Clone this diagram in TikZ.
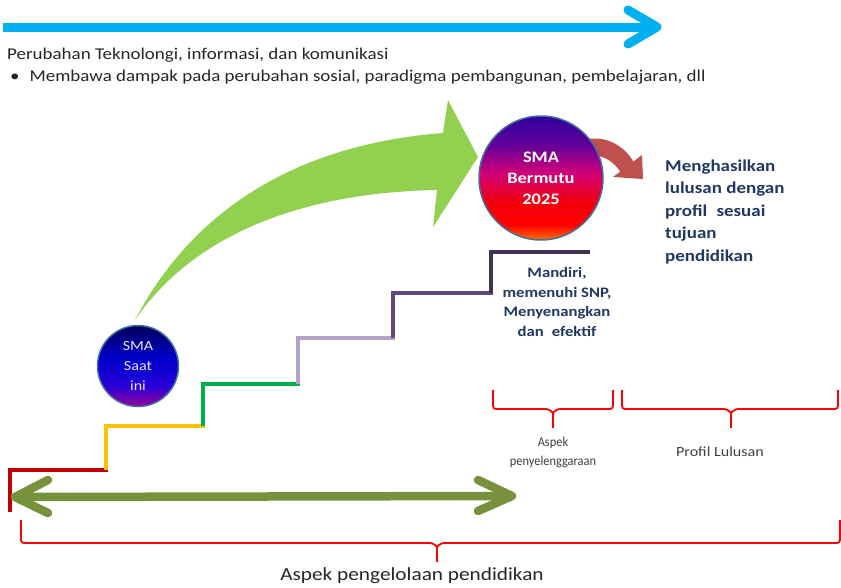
\documentclass[tikz,border=0pt]{standalone}
\usepackage{fontspec}
\setmainfont{Carlito}[FakeStretch=1.15]
\newfontfamily\narrowfont{Carlito}[FakeStretch=0.92]
\usetikzlibrary{calc}
\definecolor{skyblue}{HTML}{00B0F0}
\definecolor{leafgreen}{HTML}{92D050}
\definecolor{olive}{HTML}{76923C}
\definecolor{brick}{HTML}{C0504D}
\definecolor{navytext}{HTML}{1F3864}
\definecolor{inktext}{HTML}{262626}
\definecolor{graytext}{HTML}{404040}
\definecolor{ringblue}{HTML}{41719C}
\definecolor{stairA}{HTML}{C00000}
\definecolor{stairB}{HTML}{FFC000}
\definecolor{stairC}{HTML}{00B050}
\definecolor{stairD}{HTML}{B3A2C7}
\definecolor{stairE}{HTML}{604A7B}
\definecolor{stairF}{HTML}{3F3151}
\pgfdeclareverticalshading{futureball}{100bp}{
  color(0bp)=(orange!90!red);
  color(25bp)=(orange!90!red);
  color(31bp)=(red);
  color(40bp)=(red!80!purple);
  color(52bp)=(purple!70!magenta);
  color(63bp)=(violet!80!blue);
  color(75bp)=(blue!55!violet!80!black);
  color(100bp)=(blue!55!violet!80!black)}
\pgfdeclareverticalshading{nowball}{100bp}{
  color(0bp)=(violet!80!magenta);
  color(25bp)=(violet!80!magenta);
  color(38bp)=(blue!70!violet);
  color(55bp)=(blue!80!black);
  color(75bp)=(blue!35!black);
  color(100bp)=(blue!35!black)}
\begin{document}
\begin{tikzpicture}[x=1pt,y=-1pt,
  stair/.style={line width=4pt},
  redbrace/.style={draw=red, line width=1.8pt, rounded corners=3pt},
  ball/.style={circle, draw=ringblue, line width=1.5pt, inner sep=0pt, align=center, text=white},
  plain/.style={inner sep=0pt, text=inktext},
  chevron/.style={line cap=round, line join=round}
]
\useasboundingbox[fill=white] (0,0) rectangle (841,587);

% ICT arrow across the top
\coordinate (ictstart) at (3,27);
\coordinate (icttip) at (657,27);
\draw[skyblue, line width=9pt] (ictstart) -- ($(icttip)+(-4,0)$);
\draw[skyblue, line width=9pt, chevron] (628,10) -- (icttip) -- (628,44);

\node[plain, anchor=west, font=\fontsize{16.5}{18}\selectfont] (ict) at (7,55)
  {Perubahan Teknolongi, informasi, dan komunikasi};
\node[plain, anchor=west, font=\fontsize{16.5}{18}\selectfont] (impact) at (10,77)
  {\textbullet\hspace{10pt}Membawa dampak pada perubahan sosial, paradigma pembangunan, pembelajaran, dll};

% big green arrow from the present school to the 2025 goal
\fill[leafgreen] (135,320) .. controls (190,215) and (290,145) .. (443,133)
  -- (448,100) -- (478,157) -- (433,227) -- (437,190)
  .. controls (320,192) and (200,225) .. (135,320) -- cycle;

% curved red arrow towards the outcome text
\fill[brick] (588,139) .. controls (608,136) and (625,147) .. (633.3,161.6)
  -- (642,155) -- (643,179) -- (613,177) -- (620.3,171.5)
  .. controls (614,163) and (607,157) .. (597,156) -- cycle;

% the staircase
\draw[stair, stairA] (10,512) |- (108,470);
\draw[stair, stairB] (106,470) |- (205,426);
\draw[stair, stairC] (203,426) |- (300,384);
\draw[stair, stairD] (298,384) |- (395,338);
\draw[stair, stairE] (393,338) |- (493,293);
\draw[stair, stairF] (491,293) |- (590,252);

% two-headed management arrow
\coordinate (mgl) at (15,497);
\coordinate (mgr) at (512,496);
\draw[olive, line width=8.5pt] ($(mgl)+(4,0)$) -- ($(mgr)+(-4,0)$);
\draw[olive, line width=8.5pt, chevron] (48,480) -- (mgl) -- (48,513);
\draw[olive, line width=8.5pt, chevron] (478,480) -- (mgr) -- (478,511);

% the two schools
\node[ball, minimum size=81pt, shading=nowball, text=blue!10!white,
  font=\fontsize{14}{20}\selectfont] (now) at (138,366) {SMA\\Saat\\ini};
\node[ball, minimum size=124pt, shading=futureball,
  font=\bfseries\fontsize{16}{21}\selectfont] (goal) at (541,178) {SMA\\Bermutu\\2025};

% texts
\node[plain, anchor=west, align=left, text=navytext,
  font=\bfseries\fontsize{16.5}{22.5}\selectfont] (outcome) at (665,212)
  {Menghasilkan\\lulusan dengan\\profil\hspace{0.3em} sesuai\\tujuan\\pendidikan};
\node[plain, align=center, text=navytext,
  font=\bfseries\fontsize{14.5}{19.5}\selectfont] (traits) at (557,302)
  {Mandiri,\\memenuhi SNP,\\Menyenangkan\\dan\hspace{0.3em} efektif};

% braces
\draw[redbrace] (493,390) -- (493,409) -- (549,409) -- (553,413);
\draw[redbrace] (613,390) -- (613,409) -- (557,409) -- (553,413);
\draw[red, line width=1.8pt] (553,412) -- (553,428) coordinate (tipA);
\draw[redbrace] (622,390) -- (622,409) -- (727,409) -- (731,413);
\draw[redbrace] (838,390) -- (838,409) -- (735,409) -- (731,413);
\draw[red, line width=1.8pt] (731,412) -- (731,428) coordinate (tipB);
\draw[redbrace] (21,520) -- (21,543) -- (433,543) -- (437,547);
\draw[redbrace] (840,520) -- (840,543) -- (441,543) -- (437,547);
\draw[red, line width=1.8pt] (437,546) -- (437,562) coordinate (tipC);

\node[plain, align=center, text=graytext, font=\narrowfont\fontsize{13.5}{19}\selectfont]
  (aspekA) at (553,452.5) {Aspek\\penyelenggaraan};
\node[plain, text=graytext, font=\fontsize{14}{19}\selectfont]
  (aspekB) at (720,452) {Profil Lulusan};
\node[plain, font=\fontsize{18.5}{20}\selectfont] (aspekC) at (412,576)
  {Aspek pengelolaan pendidikan};
\end{tikzpicture}
\end{document}
